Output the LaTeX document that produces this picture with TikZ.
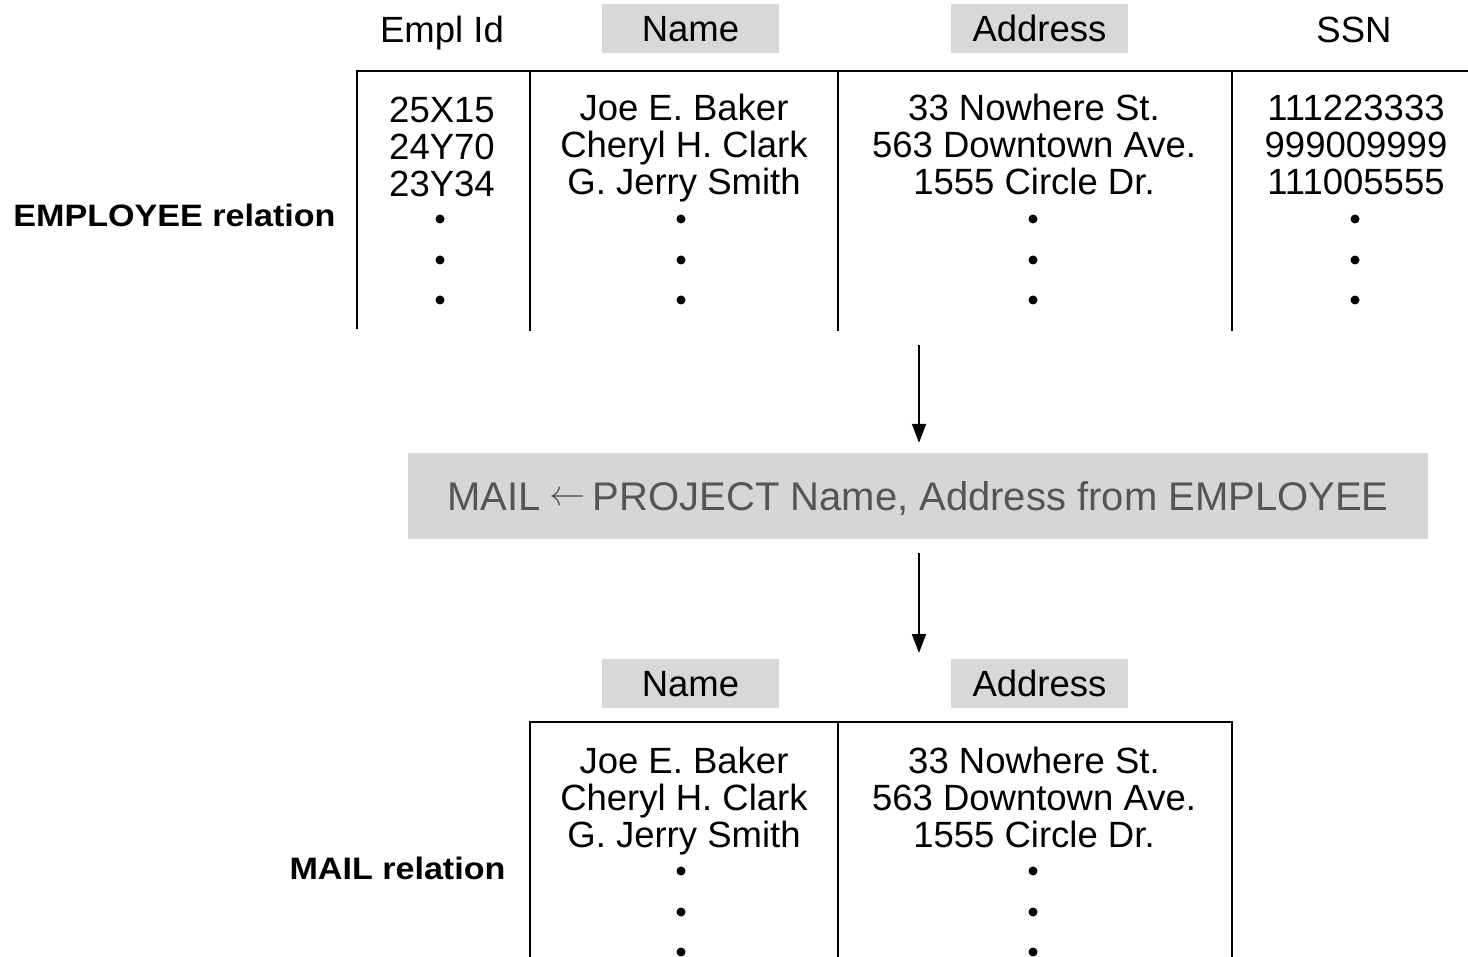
\documentclass[tikz,border=0pt]{standalone}
\usepackage{fontspec}
\usepackage{graphicx}
\setmainfont{Liberation Sans}
\newfontfamily\labfont{Liberation Sans Bold}[FakeStretch=1.1]
\usetikzlibrary{arrows.meta}
\definecolor{hdrgray}{HTML}{D8D8D8}
\definecolor{opgray}{HTML}{D6D6D6}
\definecolor{optext}{HTML}{555555}
\tikzset{
  cell/.style={inner sep=0pt, text height=26pt, text depth=0pt, font=\fontsize{36.5}{38}\selectfont},
  hdr/.style={cell, fill=hdrgray, minimum width=177pt, minimum height=49pt},
  rellab/.style={inner sep=0pt, text height=22pt, text depth=0pt, font=\fontsize{31}{33}\labfont},
  opbox/.style={inner sep=0pt, fill=opgray, minimum width=1020pt, minimum height=86pt, text height=29pt, text depth=0pt, text=optext, font=\fontsize{40}{42}\selectfont},
  tabline/.style={line width=2.4pt, line cap=rect},
  flow/.style={line width=2pt, -{Triangle[length=19pt, width=14pt]}},
  dotmark/.style={fill=black}
}
\begin{document}
\begin{tikzpicture}[x=1pt, y=-1pt]
\useasboundingbox (0,0) rectangle (1468,957);

% ---------- EMPLOYEE relation ----------
\node[cell] (hEid) at (442,30) {Empl Id};
\node[hdr] (hName) at (690.5,28.5) {Name};
\node[hdr] (hAddr) at (1039.5,28.5) {Address};
\node[cell] (hSsn) at (1354,30) {SSN};

\draw[tabline] (357,328) -- (357,71) -- (1468,71);
\draw[tabline] (530,71) -- (530,330);
\draw[tabline] (838,71) -- (838,330);
\draw[tabline] (1232,71) -- (1232,330);

\node[cell] (e1) at (442,110) {25X15};
\node[cell] (e2) at (442,147) {24Y70};
\node[cell] (e3) at (442,184) {23Y34};

\node[cell] (n1) at (684,108) {Joe E. Baker};
\node[cell] (n2) at (684,145) {Cheryl H. Clark};
\node[cell] (n3) at (684,182) {G. Jerry Smith};

\node[cell] (a1) at (1034,108) {33 Nowhere St.};
\node[cell] (a2) at (1034,145) {563 Downtown Ave.};
\node[cell] (a3) at (1034,182) {1555 Circle Dr.};

\node[cell] (s1) at (1356,108) {111223333};
\node[cell] (s2) at (1356,145) {999009999};
\node[cell] (s3) at (1356,182) {111005555};

\foreach \cx in {440,681,1033,1355}
  \foreach \cy in {219,260,300}
    \fill[dotmark] (\cx,\cy) circle (4.5pt);

\node[rellab] (empRel) at (174.5,216) {EMPLOYEE relation};

% ---------- operation ----------
\coordinate (arrA) at (919,345);
\node[opbox] (op) at (918,496) {MAIL\hspace{9pt}\raisebox{5pt}{\resizebox{36pt}{!}{$\leftarrow$}}\hspace{7pt}PROJECT Name, Address from EMPLOYEE};
\coordinate (arrB) at (919,653);
\draw[flow, shorten >=10pt] (arrA) -- (arrA |- op.north);
\draw[flow, shorten <=14pt] (arrB |- op.south) -- (arrB);

% ---------- MAIL relation ----------
\node[hdr] (mName) at (690.5,683) {Name};
\node[hdr] (mAddr) at (1039.5,683) {Address};

\draw[tabline] (530,957) -- (530,722) -- (1232,722) -- (1232,957);
\draw[tabline] (838,722) -- (838,957);

\node[cell] (mn1) at (684,760) {Joe E. Baker};
\node[cell] (mn2) at (684,797) {Cheryl H. Clark};
\node[cell] (mn3) at (684,834) {G. Jerry Smith};

\node[cell] (ma1) at (1034,760) {33 Nowhere St.};
\node[cell] (ma2) at (1034,797) {563 Downtown Ave.};
\node[cell] (ma3) at (1034,834) {1555 Circle Dr.};

\foreach \cx in {681,1033}
  \foreach \cy in {871,912,952}
    \fill[dotmark] (\cx,\cy) circle (4.5pt);

\node[rellab] (mailRel) at (397.5,868) {MAIL relation};
\end{tikzpicture}
\end{document}
